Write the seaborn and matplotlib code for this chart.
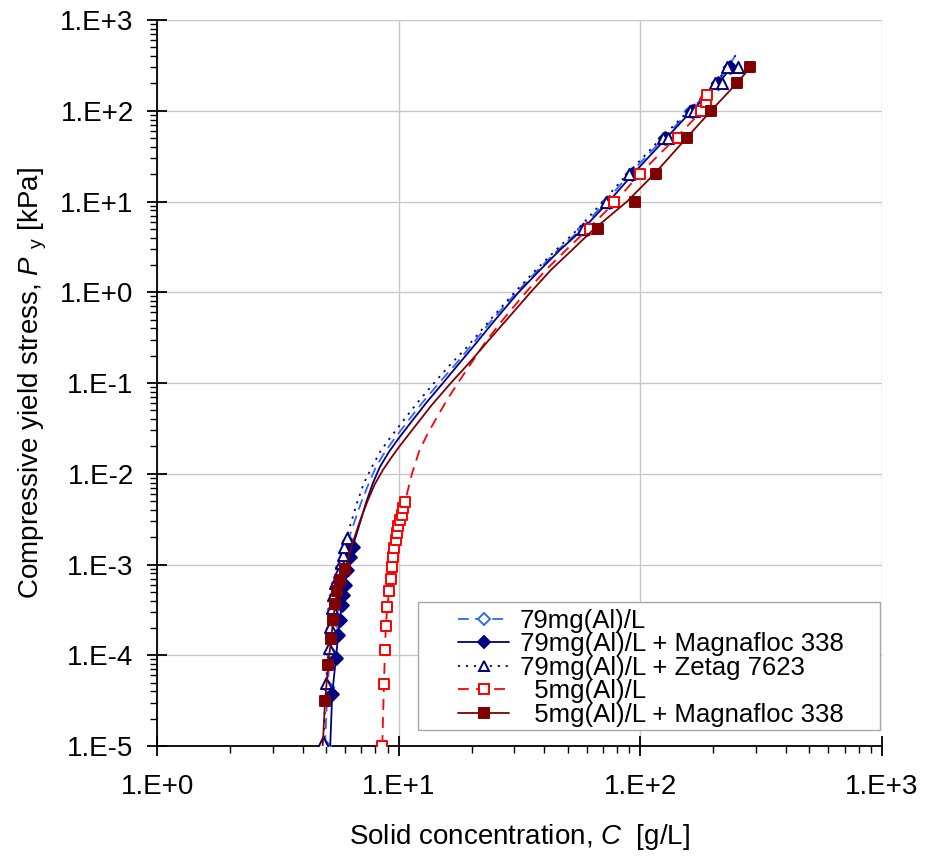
import numpy as np
import pandas as pd
import matplotlib
matplotlib.use("Agg")
import matplotlib.pyplot as plt
from matplotlib.lines import Line2D
from matplotlib.patches import Rectangle
from matplotlib.ticker import LogLocator, NullFormatter
import seaborn as sns

# ---------------- data ----------------
labels = ["79mg(Al)/L", "79mg(Al)/L + Magnafloc 338", "79mg(Al)/L + Zetag 7623",
          "  5mg(Al)/L", "  5mg(Al)/L + Magnafloc 338"]

# measured points (C in g/L, Py in kPa)
s1_C = [4.95, 5.07, 5.2, 5.28, 5.36, 5.45, 5.55, 5.75, 5.97, 6.15, 58, 73, 91, 125, 161, 207, 232]
s1_P = [1.0e-5, 4.5e-5, 1.1e-4, 2.0e-4, 3.2e-4, 4.6e-4, 6.3e-4, 9.5e-4, 1.35e-3, 1.8e-3,
        5, 10, 20, 50, 100, 200, 300]
s2_C = [5.30, 5.49, 5.61, 5.70, 5.80, 5.89, 5.98, 6.13, 6.28, 6.44, 60, 74, 92, 127, 163, 210, 235]
s2_P = [3.74e-5, 9.25e-5, 1.67e-4, 2.44e-4, 3.58e-4, 4.6e-4, 5.9e-4, 8.7e-4, 1.22e-3, 1.57e-3,
        5, 10, 20, 50, 100, 200, 300]
s3_C = [4.87, 4.99, 5.12, 5.19, 5.27, 5.35, 5.44, 5.65, 5.76, 5.89, 5.94, 6.08,
        57.8, 72, 89.9, 124, 130, 160, 166, 203, 217, 227.5, 252.6]
s3_P = [1.1e-5, 4.9e-5, 1.19e-4, 2.07e-4, 3.29e-4, 4.6e-4, 6.2e-4, 8.3e-4, 1.04e-3, 1.27e-3, 1.57e-3, 1.95e-3,
        5, 10, 20, 50, 50, 100, 100, 200, 200, 300, 300]
s4_C = [8.54, 8.68, 8.76, 8.84, 8.95, 9.12, 9.25, 9.39, 9.48, 9.57, 9.70, 9.79, 9.91, 10.1, 10.27, 10.42, 10.6,
        62, 78, 99.5, 143, 179, 186, 189]
s4_P = [1.0e-5, 4.8e-5, 1.14e-4, 2.12e-4, 3.43e-4, 5.1e-4, 6.9e-4, 9.46e-4, 1.22e-3, 1.51e-3, 1.86e-3,
        2.24e-3, 2.65e-3, 3.09e-3, 3.5e-3, 4.16e-3, 4.89e-3,
        5, 10, 20, 50, 100, 125, 150]
s5_C = [4.95, 5.10, 5.24, 5.35, 5.44, 5.56, 5.70, 5.98, 67, 95, 116, 155.5, 196, 250, 285]
s5_P = [3.13e-5, 7.8e-5, 1.5e-4, 2.44e-4, 3.64e-4, 5.1e-4, 6.7e-4, 8.9e-4, 5, 10, 20, 50, 100, 200, 300]

# fitted model curves
f1_C = [4.95, 5.07, 5.2, 5.28, 5.36, 5.45, 5.55, 5.75, 5.97, 6.15, 6.46, 6.97, 7.52, 8.04, 8.76, 9.64,
        10.91, 12.58, 14.66, 17.07, 19.69, 24.29, 30.52, 37.65, 45.55, 56.2, 72, 90, 125, 160, 207, 245]
f1_P = [1e-5, 4.5e-5, 1.1e-4, 2e-4, 3.2e-4, 4.6e-4, 6.3e-4, 9.5e-4, 1.35e-3, 1.8e-3, 2.65e-3, 4.76e-3,
        7.9e-3, 1.19e-2, 1.74e-2, 2.48e-2, 3.81e-2, 6.18e-2, 0.1, 0.158, 0.249, 0.494, 0.98, 1.76, 2.92,
        4.85, 10, 20, 50, 100, 200, 390]
f2_C = [5.2, 5.30, 5.49, 5.61, 5.70, 5.80, 5.89, 5.98, 6.13, 6.28, 6.44, 6.84, 7.31, 7.81, 8.35, 9.10,
        10.01, 11.33, 13.07, 15.23, 17.56, 20.26, 25.0, 31.1, 38.4, 46.4, 57.3, 74, 93, 128, 163, 210, 238]
f2_P = [1e-5, 3.74e-5, 9.25e-5, 1.67e-4, 2.44e-4, 3.58e-4, 4.6e-4, 5.9e-4, 8.7e-4, 1.22e-3, 1.57e-3,
        2.65e-3, 4.76e-3, 7.9e-3, 1.19e-2, 1.74e-2, 2.48e-2, 3.81e-2, 6.18e-2, 0.1, 0.158, 0.249, 0.494,
        0.98, 1.76, 2.92, 4.85, 10, 20, 50, 100, 200, 300]
f3_C = [4.87, 4.99, 5.12, 5.19, 5.27, 5.35, 5.44, 5.65, 5.76, 5.89, 5.94, 6.08, 6.28, 6.71, 7.17, 7.74,
        8.35, 9.19, 10.40, 12.00, 13.98, 16.27, 19.14, 23.84, 29.95, 36.9, 44.7, 54.6, 70, 88, 122, 158,
        205, 248]
f3_P = [1e-5, 4.9e-5, 1.19e-4, 2.07e-4, 3.29e-4, 4.6e-4, 6.2e-4, 8.3e-4, 1.04e-3, 1.27e-3, 1.57e-3,
        1.95e-3, 2.65e-3, 4.76e-3, 7.9e-3, 1.19e-2, 1.74e-2, 2.48e-2, 3.81e-2, 6.18e-2, 0.1, 0.158, 0.249,
        0.494, 0.98, 1.76, 2.92, 4.85, 10, 20, 50, 100, 200, 410]
f4_C = [8.54, 8.68, 8.76, 8.84, 8.95, 9.12, 9.25, 9.39, 9.48, 9.57, 9.70, 9.79, 9.91, 10.1, 10.27, 10.42,
        10.6, 11.33, 12.11, 13.07, 14.24, 15.82, 17.56, 20.07, 23.15, 27.76, 33.58, 40.6, 49.2, 60.1, 79,
        99, 140, 180]
f4_P = [1.0e-5, 4.8e-5, 1.14e-4, 2.12e-4, 3.43e-4, 5.1e-4, 6.9e-4, 9.46e-4, 1.22e-3, 1.51e-3, 1.86e-3,
        2.24e-3, 2.65e-3, 3.09e-3, 3.5e-3, 4.16e-3, 4.89e-3, 1e-2, 1.74e-2, 2.67e-2, 4.01e-2, 6.5e-2, 0.1,
        0.17, 0.298, 0.547, 1.0, 1.76, 2.92, 4.85, 10, 20, 50, 100]
f5_C = [4.84, 4.95, 5.10, 5.24, 5.35, 5.44, 5.56, 5.70, 5.98, 6.40, 6.90, 7.45, 7.96, 8.59, 9.28, 10.01,
        11.44, 13.58, 16.27, 19.69, 23.60, 28.83, 34.88, 42.6, 52.1, 63.6, 88, 114, 155, 196, 250, 285]
f5_P = [1e-5, 3.13e-5, 7.8e-5, 1.5e-4, 2.44e-4, 3.64e-4, 5.1e-4, 6.7e-4, 8.9e-4, 1.64e-3, 3.01e-3,
        5.14e-3, 7.71e-3, 1.10e-2, 1.49e-2, 1.97e-2, 3.11e-2, 5.58e-2, 9.75e-2, 0.17, 0.298, 0.547, 0.98,
        1.76, 2.92, 4.85, 10, 20, 50, 100, 200, 300]

x_ticks = [1, 10, 100, 1000]
x_tick_labels = ["1.E+0", "1.E+1", "1.E+2", "1.E+3"]
y_ticks = [1e-5, 1e-4, 1e-3, 1e-2, 1e-1, 1, 10, 100, 1000]
y_tick_labels = ["1.E-5", "1.E-4", "1.E-3", "1.E-2", "1.E-1", "1.E+0", "1.E+1", "1.E+2", "1.E+3"]

# ---------------- style ----------------
sns.set_theme(style="white")
plt.rcParams["font.family"] = ["Liberation Sans", "DejaVu Sans"]
plt.rcParams["mathtext.fontset"] = "custom"
plt.rcParams["mathtext.rm"] = "Liberation Sans"
plt.rcParams["mathtext.it"] = "Liberation Sans:italic"
plt.rcParams["text.color"] = "black"
plt.rcParams["axes.labelcolor"] = "black"
plt.rcParams["xtick.color"] = "black"
plt.rcParams["ytick.color"] = "black"

colors = ["#3366FF", "#000080", "#000080", "#FF0000", "#800000"]
dashes = [(6, 3.5), None, (1.2, 3.2), (6, 4), None]
markers = ["D", "D", "^", "s", "s"]
faces = ["white", "#000080", "white", "white", "#800000"]
msizes = [6, 6.5, 8, 7.5, 7.5]

fits = [(f1_C, f1_P), (f2_C, f2_P), (f3_C, f3_P), (f4_C, f4_P), (f5_C, f5_P)]
pts = [(s1_C, s1_P), (s2_C, s2_P), (s3_C, s3_P), (s4_C, s4_P), (s5_C, s5_P)]

fig = plt.figure(figsize=(9.25, 8.56), dpi=100)
ax = fig.add_axes([0.170, 0.1285, 0.7835, 0.8481])
ax.set_xscale("log")
ax.set_yscale("log")

for i in range(5):
    fc, fp = fits[i]
    df = pd.DataFrame({"C": fc, "P": fp})
    sns.lineplot(data=df, x="C", y="P", ax=ax, sort=False, estimator=None,
                 color=colors[i], lw=1.3, zorder=2 + i)
    l = ax.lines[-1]
    if dashes[i] is not None:
        l.set_dashes(dashes[i])
    pc, pp = pts[i]
    dp = pd.DataFrame({"C": pc, "P": pp})
    sns.scatterplot(data=dp, x="C", y="P", ax=ax, marker=markers[i], s=msizes[i] ** 2,
                    facecolor=faces[i], edgecolor=colors[i], linewidth=1.4, zorder=3 + i)

ax.set_xlim(1, 1000)
ax.set_ylim(1e-5, 1000)
ax.set_xticks(x_ticks)
ax.set_xticklabels(x_tick_labels)
ax.set_yticks(y_ticks)
ax.set_yticklabels(y_tick_labels)
ax.xaxis.set_minor_locator(LogLocator(base=10, subs=np.arange(2, 10), numticks=100))
ax.yaxis.set_minor_locator(LogLocator(base=10, subs=np.arange(2, 10), numticks=100))
ax.xaxis.set_minor_formatter(NullFormatter())
ax.yaxis.set_minor_formatter(NullFormatter())

ax.grid(True, which="major", color="#C8C8C8", lw=1.0)
ax.set_axisbelow(True)
for side in ["top", "right"]:
    ax.spines[side].set_visible(False)
for side in ["left", "bottom"]:
    ax.spines[side].set_color("black")
    ax.spines[side].set_linewidth(1.3)

ax.tick_params(axis="both", which="major", direction="inout", length=14, width=1.3,
               colors="black", labelsize=20, left=True, bottom=True)
ax.tick_params(axis="both", which="minor", direction="out", length=5, width=1.0,
               colors="black", left=True, bottom=True)
ax.tick_params(axis="x", which="major", pad=13)
ax.tick_params(axis="y", which="major", pad=10)

ax.set_xlabel(r"Solid concentration, $C$  [g/L]", fontsize=20, labelpad=16, color="black")
ax.set_ylabel(r"Compressive yield stress, $P$ $_{\mathrm{y}}$ [kPa]", fontsize=20, labelpad=8,
              color="black")

# legend: frame drawn as a separate box (wide side margins like the reference)
W, H = 925.0, 856.0
frame = Rectangle((418 / W, 1 - 730 / H), 462 / W, 128 / H, transform=fig.transFigure,
                  facecolor="white", edgecolor="#A8A8A8", lw=1.0, zorder=1)
fig.add_artist(frame)

handles = []
for i in range(5):
    h = Line2D([0], [0], color=colors[i], lw=1.3, marker=markers[i], markersize=msizes[i] * 0.95,
               markerfacecolor=faces[i], markeredgecolor=colors[i], markeredgewidth=1.4)
    if dashes[i] is not None:
        h.set_dashes(dashes[i])
    handles.append(h)
leg = fig.legend(handles, labels, loc="upper left", bbox_to_anchor=(458 / W, 1 - 609 / H),
                 bbox_transform=fig.transFigure, borderaxespad=0, borderpad=0,
                 fontsize=18.5, frameon=False, handlelength=2.0, handletextpad=0.4,
                 labelspacing=-0.02, labelcolor="black")
leg.set_zorder(5)

fig.savefig("out.png", dpi=100)
